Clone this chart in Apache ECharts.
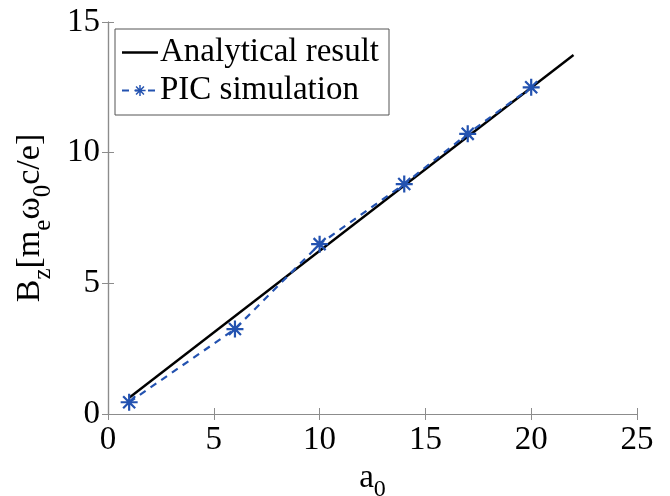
<!DOCTYPE html>
<html><head><meta charset="utf-8">
<script src="https://cdn.jsdelivr.net/npm/echarts@6/dist/echarts.min.js"></script>
<style>html,body{margin:0;padding:0;background:#fff}#c{width:670px;height:496px}</style>
</head><body><div id="c"></div>
<script>
const picA0 = [1, 6, 10, 14, 17, 20];
const picBz = [0.45, 3.25, 6.5, 8.8, 10.72, 12.5];
const analyticA0 = [1, 22];
const analyticBz = [0.62, 13.74];
const xTicks = [0, 5, 10, 15, 20, 25];
const yTicks = [0, 5, 10, 15];

function starPath() {
  const L = 10, w = 1.3, parts = [];
  [0, 45, 90, 135].forEach(a => {
    const r = a * Math.PI / 180, c = Math.cos(r), s = Math.sin(r);
    const px = -s * w, py = c * w;
    const pts = [[-L*c+px, -L*s+py], [L*c+px, L*s+py], [L*c-px, L*s-py], [-L*c-px, -L*s-py]]
      .map(p => [(p[0] + 12).toFixed(2), (p[1] + 12).toFixed(2)]);
    parts.push('M' + pts.map(p => p.join(' ')).join(' L') + ' Z');
  });
  return 'path://' + parts.join(' ');
}
const font = '"Liberation Serif", "Times New Roman", serif';
const blue = '#2352b0';
const chart = echarts.init(document.getElementById('c'));
const axisCommon = {
  type: 'value', min: 0,
  axisLine: {show: true, lineStyle: {color: '#8c8c8c', width: 1.2}},
  axisTick: {show: true, inside: true, length: 6, lineStyle: {color: '#8c8c8c'}},
  splitLine: {show: false}
};
chart.setOption({
  animation: false,
  backgroundColor: '#fff',
  grid: {left: 108, right: 33, top: 22, bottom: 82, containLabel: false, outerBoundsMode: 'none'},
  legend: {
    left: 115, top: 29, orient: 'vertical',
    backgroundColor: '#fff', borderColor: '#555', borderWidth: 1,
    padding: [7, 10, 8, 6], itemGap: 5, itemWidth: 36, itemHeight: 14,
    textStyle: {fontFamily: font, fontSize: 33, color: '#000', padding: [0, 0, 0, -3]},
    data: [
      {name: 'Analytical result', icon: 'path://M0 0 L36 0 L36 2.4 L0 2.4 Z', itemStyle: {color: '#000'}},
      {name: 'PIC simulation'}
    ]
  },
  xAxis: [
    Object.assign({}, axisCommon, {
      max: 25, interval: 5, position: 'bottom',
      axisLabel: {fontFamily: font, fontSize: 33, color: '#000', margin: 10,
        formatter: v => xTicks.includes(v) ? String(v) : ''},
      name: '{m|a}{s|0}', nameLocation: 'middle', nameGap: 36,
      nameTextStyle: {rich: {
        m: {fontFamily: font, fontSize: 33, color: '#000', verticalAlign: 'top', lineHeight: 33},
        s: {fontFamily: font, fontSize: 24, color: '#000', verticalAlign: 'bottom', padding: [16, 0, 0, 0]}
      }}
    }),
    Object.assign({}, axisCommon, {max: 25, interval: 5, position: 'top', axisLabel: {show: false}})
  ],
  yAxis: [
    Object.assign({}, axisCommon, {
      max: 15, interval: 5, position: 'left',
      axisLabel: {fontFamily: font, fontSize: 33, color: '#000', margin: 8,
        formatter: v => yTicks.includes(v) ? String(v) : ''},
      name: '{m|B}{s|z}{m|[m}{s|e}{m|ω}{s|0}{m|c/e]}', nameLocation: 'middle', nameGap: 44, nameRotate: 90,
      nameTextStyle: {rich: {
        m: {fontFamily: font, fontSize: 34, color: '#000', verticalAlign: 'top', lineHeight: 34},
        s: {fontFamily: font, fontSize: 25, color: '#000', verticalAlign: 'bottom', padding: [18, 0, 0, 0]}
      }}
    }),
    Object.assign({}, axisCommon, {max: 15, interval: 5, position: 'right', axisLabel: {show: false}})
  ],
  series: [
    {
      name: 'Analytical result', type: 'line',
      data: analyticA0.map((x, i) => [x, analyticBz[i]]),
      showSymbol: false, symbol: 'none',
      lineStyle: {color: '#000', width: 2.4}, itemStyle: {color: '#000'}, z: 2
    },
    {
      name: 'PIC simulation', type: 'line',
      data: picA0.map((x, i) => [x, picBz[i]]),
      symbol: starPath(), symbolSize: 17,
      lineStyle: {color: blue, width: 2.2, type: [7, 6]},
      itemStyle: {color: blue}, z: 3
    }
  ]
});
</script></body></html>
